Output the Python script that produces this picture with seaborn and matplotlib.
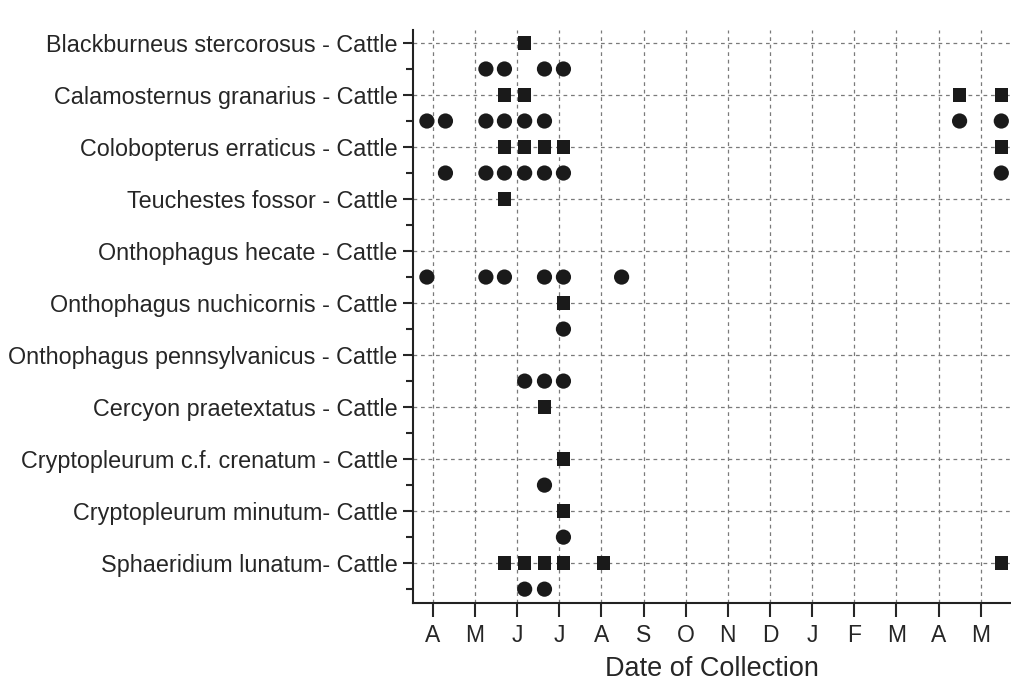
import pandas as pd
import matplotlib.pyplot as plt
import seaborn as sns

# Species (one labelled row each), month tick labels starting in April
species = [
    "Blackburneus stercorosus - Cattle",
    "Calamosternus granarius - Cattle",
    "Colobopterus erraticus - Cattle",
    "Teuchestes fossor - Cattle",
    "Onthophagus hecate - Cattle",
    "Onthophagus nuchicornis - Cattle",
    "Onthophagus pennsylvanicus - Cattle",
    "Cercyon praetextatus - Cattle",
    "Cryptopleurum c.f. crenatum - Cattle",
    "Cryptopleurum minutum- Cattle",
    "Sphaeridium lunatum- Cattle",
]
months = ["A", "M", "J", "J", "A", "S", "O", "N", "D", "J", "F", "M", "A", "M"]

# collection dates, months after the first April tick (squares on the species row)
square_dates = [
    [2.18],
    [1.70, 2.18, 12.50, 13.49],
    [1.70, 2.18, 2.65, 3.10, 13.49],
    [1.70],
    [],
    [3.10],
    [],
    [2.65],
    [3.10],
    [3.10],
    [1.70, 2.18, 2.65, 3.10, 4.05, 13.49],
]
# circles sit on the minor row just below each species
circle_dates = [
    [1.26, 1.70, 2.65, 3.10],
    [-0.14, 0.30, 1.26, 1.70, 2.18, 2.65, 12.50, 13.49],
    [0.30, 1.26, 1.70, 2.18, 2.65, 3.10, 13.49],
    [],
    [-0.14, 1.26, 1.70, 2.65, 3.10, 4.48],
    [3.10],
    [2.18, 2.65, 3.10],
    [],
    [2.65],
    [3.10],
    [2.18, 2.65],
]

rows = []
for i, dates in enumerate(square_dates):
    for d in dates:
        rows.append({"date": d, "row": i, "kind": "square"})
for i, dates in enumerate(circle_dates):
    for d in dates:
        rows.append({"date": d, "row": i + 0.5, "kind": "circle"})
df = pd.DataFrame(rows)

sns.set_style("ticks")
plt.rcParams["font.family"] = ["Liberation Sans", "DejaVu Sans"]
plt.rcParams["text.color"] = "#262626"
plt.rcParams["axes.labelcolor"] = "#262626"
plt.rcParams["xtick.color"] = "#262626"
plt.rcParams["ytick.color"] = "#262626"

fig = plt.figure(figsize=(10.11, 6.83), dpi=100)
ax = fig.add_axes([0.4085, 0.1176, 0.5915, 0.8385])

ink = "#1a1a1a"
sns.scatterplot(data=df[df["kind"] == "square"], x="date", y="row", marker="s",
                s=92, color=ink, edgecolor="none", ax=ax, zorder=3)
sns.scatterplot(data=df[df["kind"] == "circle"], x="date", y="row", marker="o",
                s=120, color=ink, edgecolor="none", ax=ax, zorder=3)

ax.set_xlim(-0.47, 13.72)
ax.set_ylim(10.76, -0.25)

ax.set_xticks(range(len(months)))
ax.set_xticklabels(months, fontsize=16.5)
ax.set_yticks(range(len(species)))
ax.set_yticklabels(species, fontsize=16.8)
ax.set_yticks([i + 0.5 for i in range(len(species))], minor=True)

ax.tick_params(axis="x", which="major", direction="out", length=10, width=1.5, pad=5)
ax.tick_params(axis="y", which="major", direction="out", length=7, width=1.5, pad=4)
ax.tick_params(axis="y", which="minor", direction="out", length=5, width=1.5)

ax.grid(True, which="major", linestyle=(0, (3, 3)), color="#7a7a7a", linewidth=0.9)
ax.set_axisbelow(True)

sns.despine(ax=ax)
for side in ["left", "bottom"]:
    ax.spines[side].set_linewidth(1.5)
    ax.spines[side].set_color("#222222")

ax.set_xlabel("Date of Collection", fontsize=19.5, labelpad=7)
ax.set_ylabel("")

plt.savefig("out.png", dpi=100)
